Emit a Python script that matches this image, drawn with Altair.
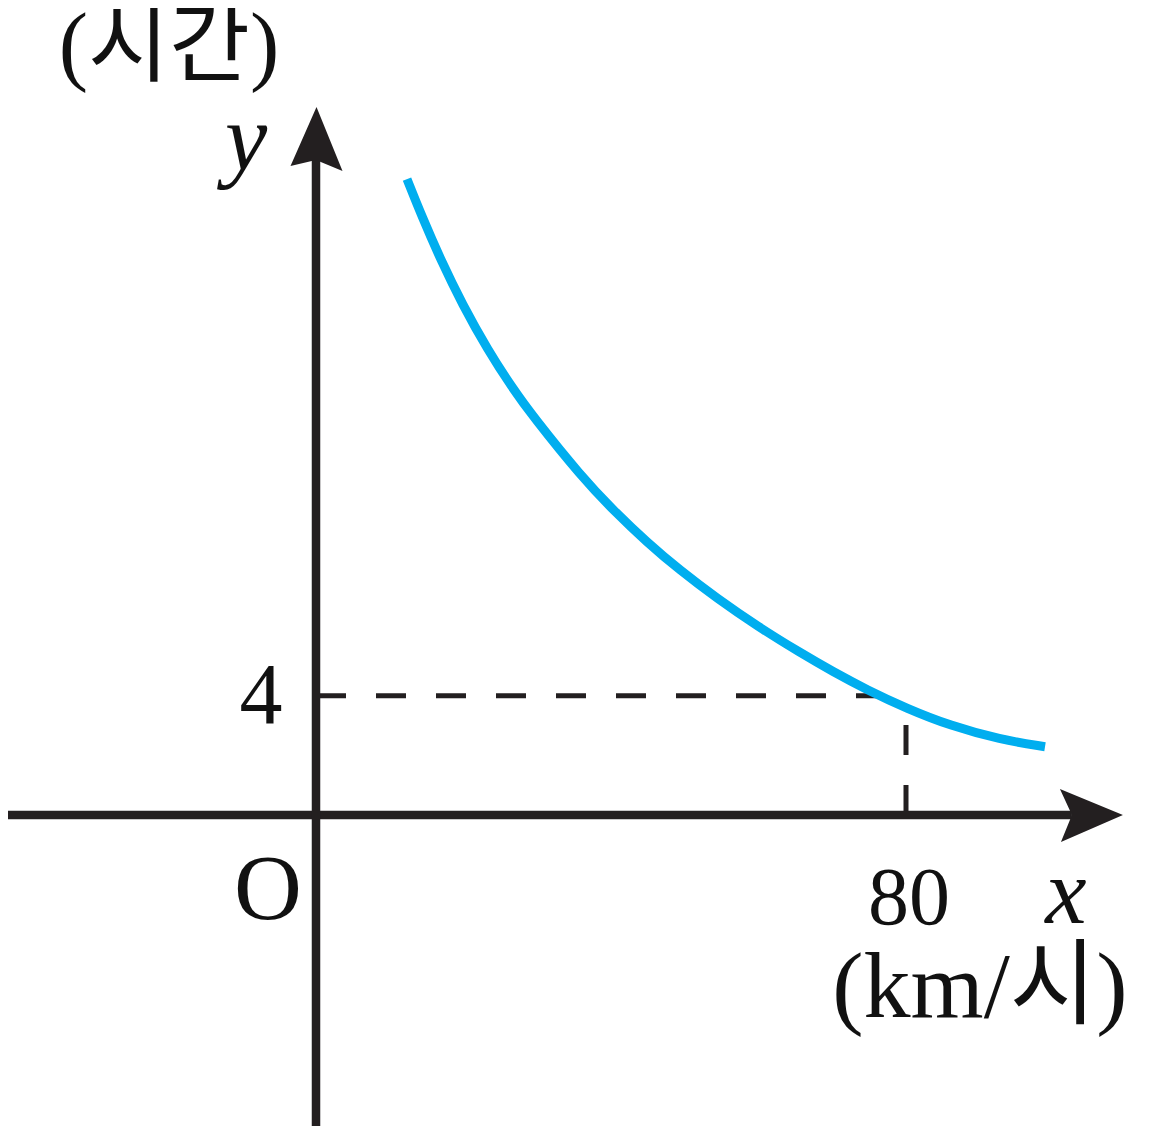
import altair as alt
import pandas as pd

# ---- values ----
curve_x = [12.34, 14.37, 17.08, 19.80, 23.32, 26.58, 29.42, 36.07, 40.27, 44.88,
           49.36, 54.37, 59.93, 65.63, 70.10, 74.71, 80.14, 85.97, 92.75, 98.85]
curve_y = [21.34, 20.08, 18.54, 17.16, 15.59, 14.35, 13.37, 11.33, 10.24, 9.15,
           8.21, 7.27, 6.32, 5.45, 4.81, 4.20, 3.57, 3.00, 2.53, 2.29]

mark_x = 80          # km/시
mark_y = 4           # 시간
guide_h_end = 76.0   # horizontal guide meets the curve
guide_v_end = 3.5    # vertical guide meets the curve
axis_x_end = 102.5   # x-axis arrow
axis_y_end = 21.98   # y-axis arrow

x_tick_label = "80"
y_tick_label = "4"
origin_label = "O"
x_name, x_unit = "x", "(km/시)"
y_name, y_unit = "y", "(시간)"

# ---- layout ----
W, H = 1133, 1118
PX_X, PX_Y = 7.375, 29.8
X_MIN = -308 / PX_X
X_MAX = X_MIN + W / PX_X
Y_MAX = 807 / PX_Y
Y_MIN = Y_MAX - H / PX_Y

INK = "#231F20"
BLUE = "#00AEEF"
FONT = "Liberation Serif, Noto Sans CJK KR"

xs = alt.Scale(domain=[X_MIN, X_MAX], nice=False, zero=False)
ys = alt.Scale(domain=[Y_MIN, Y_MAX], nice=False, zero=False)


def X(f):
    return alt.X(f, type="quantitative", scale=xs, axis=None)


def Y(f):
    return alt.Y(f, type="quantitative", scale=ys, axis=None)


curve_df = pd.DataFrame({"x": curve_x, "y": curve_y, "i": range(len(curve_x))})
curve = alt.Chart(curve_df).mark_line(
    color=BLUE, strokeWidth=9, interpolate="basis", strokeCap="butt"
).encode(x=X("x"), y=Y("y"), order="i:Q")

xaxis = alt.Chart(pd.DataFrame({"a": [X_MIN], "b": [axis_x_end], "y": [0]})).mark_rule(
    color=INK, strokeWidth=8.5
).encode(x=X("a"), x2="b:Q", y=Y("y"))
yaxis = alt.Chart(pd.DataFrame({"a": [Y_MIN], "b": [axis_y_end], "x": [0]})).mark_rule(
    color=INK, strokeWidth=8.5
).encode(y=Y("a"), y2="b:Q", x=X("x"))

hguide = alt.Chart(pd.DataFrame({"a": [0], "b": [guide_h_end], "y": [mark_y]})).mark_rule(
    color=INK, strokeWidth=5, strokeDash=[30, 30]
).encode(x=X("a"), x2="b:Q", y=Y("y"))
vguide = alt.Chart(pd.DataFrame({"a": [0], "b": [guide_v_end], "x": [mark_x]})).mark_rule(
    color=INK, strokeWidth=5, strokeDash=[30, 30]
).encode(y=Y("a"), y2="b:Q", x=X("x"))

xarrow = alt.Chart(pd.DataFrame({"x": [axis_x_end], "y": [0]})).mark_point(
    shape="M51,0 L-11,27 L0,0 L-12,-26 Z", size=4, filled=True, opacity=1,
    color=INK, strokeWidth=0
).encode(x=X("x"), y=Y("y"))
yarrow = alt.Chart(pd.DataFrame({"x": [0], "y": [axis_y_end]})).mark_point(
    shape="M0.5,-53 L26.5,11 L0,0 L-25.5,6 Z", size=4, filled=True, opacity=1,
    color=INK, strokeWidth=0
).encode(x=X("x"), y=Y("y"))


def label(text, x, y, size, dx, dy, italic=False):
    kw = dict(font=FONT, fontSize=size, dx=dx, dy=dy, align="center",
              baseline="alphabetic", color="#111111")
    if italic:
        kw["fontStyle"] = "italic"
    return alt.Chart(pd.DataFrame({"t": [text], "x": [x], "y": [y]})).mark_text(**kw).encode(
        x=X("x"), y=Y("y"), text="t:N"
    )


texts = [
    label(y_tick_label, 0, mark_y, 86, -55, 27),
    label(x_tick_label, mark_x, 0, 82, 3, 109),
    label(origin_label, 0, 0, 94, -48, 104),
    label(x_name, axis_x_end, 0, 93, -6, 108, italic=True),
    label(x_unit, axis_x_end, 0, 94, -92, 202),
    label(y_name, 0, axis_y_end, 95, -70, 10, italic=True),
    label(y_unit, 0, axis_y_end, 88, -147, -86),
]

chart = alt.layer(hguide, vguide, curve, xaxis, yaxis, xarrow, yarrow, *texts).properties(
    width=W, height=H, padding=0, autosize=alt.AutoSizeParams(type="none"),
    background="white"
).configure_view(stroke=None)

chart.save("out.html", embed_options={"renderer": "svg", "actions": False})
